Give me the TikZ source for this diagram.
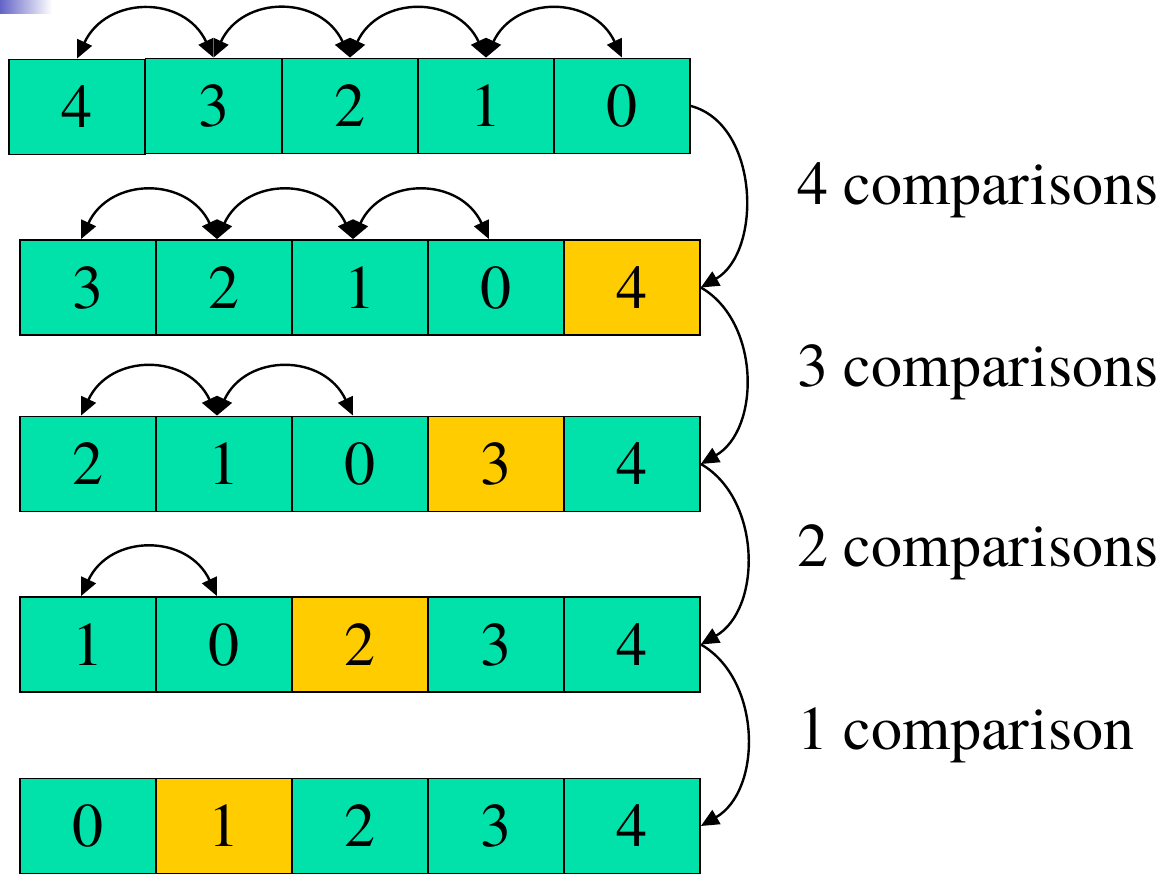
\documentclass[tikz,border=0pt]{standalone}
\usepackage{fontspec}
\setmainfont{TeX Gyre Termes}
\usetikzlibrary{arrows.meta}
\definecolor{cellgreen}{RGB}{0,226,170}
\definecolor{cellgold}{RGB}{255,204,0}
\definecolor{cornerblue}{RGB}{100,100,200}
\begin{document}
\begin{tikzpicture}[x=1pt,y=1pt,
  cell/.style={draw=black, line width=1.8pt, minimum width=136pt, minimum height=95pt, inner sep=0pt, font=\fontsize{62}{70}\selectfont},
  gcell/.style={cell, fill=cellgreen},
  hcell/.style={cell, fill=cellgold},
  swaparc/.style={line width=2.4pt, {Triangle[length=18pt,width=16pt]}-{Triangle[length=18pt,width=16pt]}},
  passarc/.style={line width=2.4pt, -{Triangle[length=18pt,width=16pt]}},
  lbl/.style={font=\fontsize{62}{70}\selectfont, anchor=base west, inner sep=0pt},
  bump/.style={out=65,in=115,looseness=1.3}
]
\useasboundingbox (0,0) rectangle (1171,-874);
\shade[left color=cornerblue, right color=white] (0,0) rectangle (52,-14);

% row 1
\node[gcell] (r1c1) at (77,-107) {4};
\node[gcell] (r1c2) at (213.5,-106) {3};
\node[gcell] (r1c3) at (350,-106) {2};
\node[gcell] (r1c4) at (486,-106) {1};
\node[gcell] (r1c5) at (622,-106) {0};
% row 2
\node[gcell] (r2c1) at (88,-287.5) {3};
\node[gcell] (r2c2) at (224,-287.5) {2};
\node[gcell] (r2c3) at (360,-287.5) {1};
\node[gcell] (r2c4) at (496,-287.5) {0};
\node[hcell] (r2c5) at (632,-287.5) {4};
% row 3
\node[gcell] (r3c1) at (88,-464) {2};
\node[gcell] (r3c2) at (224,-464) {1};
\node[gcell] (r3c3) at (360,-464) {0};
\node[hcell] (r3c4) at (496,-464) {3};
\node[gcell] (r3c5) at (632,-464) {4};
% row 4
\node[gcell] (r4c1) at (88,-644.5) {1};
\node[gcell] (r4c2) at (224,-644.5) {0};
\node[hcell] (r4c3) at (360,-644.5) {2};
\node[gcell] (r4c4) at (496,-644.5) {3};
\node[gcell] (r4c5) at (632,-644.5) {4};
% row 5
\node[gcell] (r5c1) at (88,-826) {0};
\node[hcell] (r5c2) at (224,-826) {1};
\node[gcell] (r5c3) at (360,-826) {2};
\node[gcell] (r5c4) at (496,-826) {3};
\node[gcell] (r5c5) at (632,-826) {4};

% swap arcs
\draw[swaparc] (r1c1.north) to[bump] (r1c2.north);
\draw[swaparc] (r1c2.north) to[bump] (r1c3.north);
\draw[swaparc] (r1c3.north) to[bump] (r1c4.north);
\draw[swaparc] (r1c4.north) to[bump] (r1c5.north);

\draw[swaparc] ([xshift=-7pt]r2c1.north) to[bump] ([xshift=-7pt]r2c2.north);
\draw[swaparc] ([xshift=-7pt]r2c2.north) to[bump] ([xshift=-7pt]r2c3.north);
\draw[swaparc] ([xshift=-7pt]r2c3.north) to[bump] ([xshift=-7pt]r2c4.north);

\draw[swaparc] ([xshift=-7pt]r3c1.north) to[bump] ([xshift=-7pt]r3c2.north);
\draw[swaparc] ([xshift=-7pt]r3c2.north) to[bump] ([xshift=-7pt]r3c3.north);

\draw[swaparc] ([xshift=-7pt]r4c1.north) to[bump] ([xshift=-7pt]r4c2.north);

% pass arcs
\draw[passarc] (r1c5.east) to[out=-15,in=30] (r2c5.east);
\draw[passarc] (r2c5.east) to[out=-30,in=30] (r3c5.east);
\draw[passarc] (r3c5.east) to[out=-30,in=30] (r4c5.east);
\draw[passarc] (r4c5.east) to[out=-30,in=30] (r5c5.east);

% labels
\node[lbl] (t4) at (797,-205) {4 comparisons};
\node[lbl] (t3) at (797,-387) {3 comparisons};
\node[lbl] (t2) at (797,-567) {2 comparisons};
\node[lbl] (t1) at (797,-749) {1 comparison};
\end{tikzpicture}
\end{document}
